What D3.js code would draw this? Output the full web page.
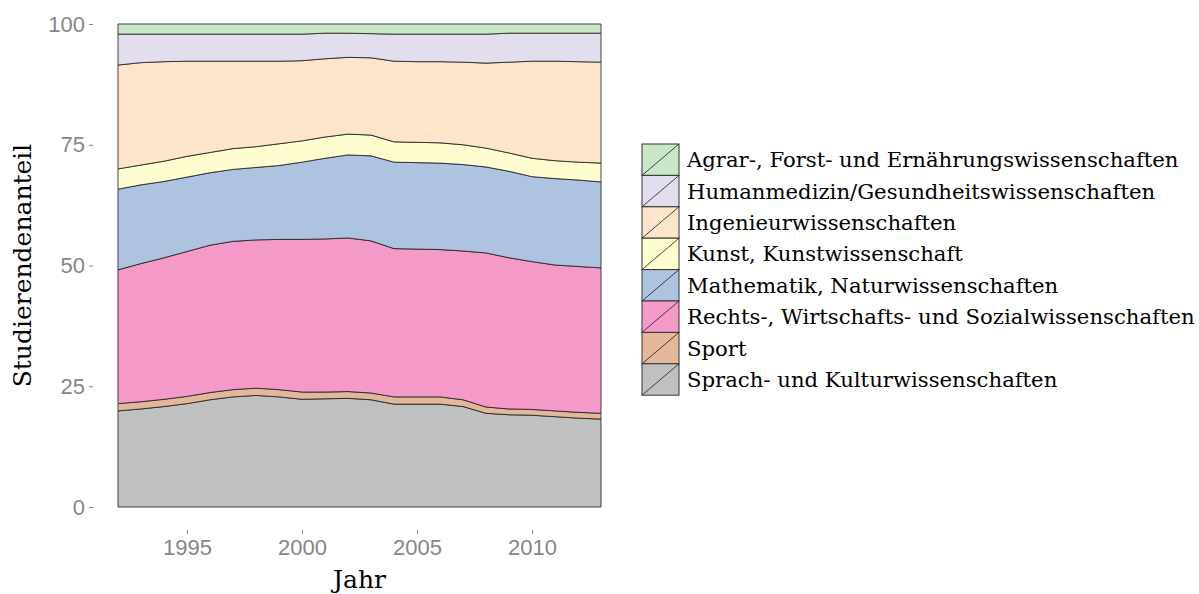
<!DOCTYPE html>
<html>
<head>
<meta charset="utf-8">
<script src="https://cdn.jsdelivr.net/npm/d3@7"></script>
<style>
  html, body { margin: 0; padding: 0; background: #ffffff; }
  svg { display: block; }
</style>
</head>
<body>
<div id="chart"></div>
<script>
// ---- data (Anteil in %) ----
const years = [1992, 1993, 1994, 1995, 1996, 1997, 1998, 1999, 2000, 2001, 2002,
               2003, 2004, 2005, 2006, 2007, 2008, 2009, 2010, 2011, 2012, 2013];

const sprach    = [19.9, 20.3, 20.8, 21.4, 22.2, 22.8, 23.1, 22.8, 22.3, 22.4, 22.5,
                   22.2, 21.3, 21.3, 21.3, 20.8, 19.4, 19.1, 19.0, 18.7, 18.4, 18.2];
const sport     = [1.5, 1.5, 1.5, 1.5, 1.5, 1.5, 1.5, 1.5, 1.5, 1.4, 1.4,
                   1.4, 1.5, 1.5, 1.5, 1.4, 1.3, 1.2, 1.2, 1.2, 1.2, 1.2];
const rechts    = [27.7, 28.6, 29.3, 30.0, 30.5, 30.7, 30.7, 31.1, 31.6, 31.7, 31.8,
                   31.5, 30.7, 30.6, 30.5, 30.8, 31.9, 31.3, 30.6, 30.2, 30.2, 30.1];
const mathe     = [16.7, 16.3, 15.8, 15.4, 15.0, 14.9, 15.0, 15.3, 16.0, 16.7, 17.2,
                   17.6, 17.9, 17.9, 17.9, 17.9, 17.8, 17.9, 17.6, 17.9, 17.9, 17.8];
const kunst     = [4.2, 4.1, 4.2, 4.3, 4.2, 4.3, 4.3, 4.5, 4.4, 4.4, 4.3,
                   4.3, 4.2, 4.2, 4.2, 4.1, 3.9, 3.8, 3.8, 3.7, 3.7, 3.9];
const ingenieur = [21.5, 21.2, 20.6, 19.7, 18.9, 18.1, 17.7, 17.1, 16.6, 16.2, 15.9,
                   16.0, 16.7, 16.7, 16.8, 17.1, 17.6, 18.8, 20.1, 20.6, 20.8, 20.9];
const humanmed  = [6.4, 5.9, 5.7, 5.6, 5.6, 5.6, 5.6, 5.6, 5.5, 5.3, 5.0,
                   5.0, 5.6, 5.7, 5.7, 5.8, 6.0, 6.0, 5.8, 5.8, 5.9, 6.0];
const agrar     = [2.1, 2.1, 2.1, 2.1, 2.1, 2.1, 2.1, 2.1, 2.1, 1.9, 1.9,
                   2.0, 2.1, 2.1, 2.1, 2.1, 2.1, 1.9, 1.9, 1.9, 1.9, 1.9];

// stacking order, bottom to top
const stackKeys = ["Sprach- und Kulturwissenschaften", "Sport",
  "Rechts-, Wirtschafts- und Sozialwissenschaften", "Mathematik, Naturwissenschaften",
  "Kunst, Kunstwissenschaft", "Ingenieurwissenschaften",
  "Humanmedizin/Gesundheitswissenschaften", "Agrar-, Forst- und Ernährungswissenschaften"];
const seriesValues = [sprach, sport, rechts, mathe, kunst, ingenieur, humanmed, agrar];
const seriesColors = ["#c0c0c0", "#e2b79a", "#f599c9", "#adc3e0",
                      "#fdfdcf", "#fde4cb", "#e2deee", "#c8e7c6"];

const yTicks = [0, 25, 50, 75, 100];
const xTicks = [1995, 2000, 2005, 2010];

// ---- layout ----
const width = 1199, height = 594;
const panel = { left: 118, right: 601, top: 24, bottom: 507 };

const svg = d3.select("#chart").append("svg")
    .attr("width", width)
    .attr("height", height);

const x = d3.scaleLinear()
    .domain(d3.extent(years))
    .range([panel.left, panel.right]);

const y = d3.scaleLinear()
    .domain([0, 100])
    .range([panel.bottom, panel.top]);

// build table for d3.stack
const table = years.map((yr, i) => {
    const row = { year: yr };
    stackKeys.forEach((k, j) => { row[k] = seriesValues[j][i]; });
    return row;
});

const stacked = d3.stack().keys(stackKeys)(table);
const color = d3.scaleOrdinal().domain(stackKeys).range(seriesColors);

const area = d3.area()
    .x(d => x(d.data.year))
    .y0(d => y(d[0]))
    .y1(d => y(d[1]));

svg.append("g")
  .selectAll("path")
  .data(stacked)
  .join("path")
    .attr("d", area)
    .attr("fill", d => color(d.key))
    .attr("stroke", "#1a1a1a")
    .attr("stroke-width", 0.8)
    .attr("stroke-linejoin", "round");

// ---- axes (offset from the panel, ggplot-like) ----
const axisGrey = "#868686";
const sans = "'Liberation Sans', Arial, sans-serif";

const yAxis = svg.append("g")
    .attr("transform", `translate(93,0)`)
    .call(d3.axisLeft(y).tickValues(yTicks).tickSize(4).tickPadding(4));
yAxis.select(".domain").remove();
yAxis.selectAll(".tick line").attr("stroke", axisGrey);
yAxis.selectAll(".tick text")
    .attr("fill", axisGrey)
    .style("font-family", sans)
    .style("font-size", "22px");

const xAxis = svg.append("g")
    .attr("transform", `translate(0,530)`)
    .call(d3.axisBottom(x).tickValues(xTicks).tickFormat(d3.format("d")).tickSize(4).tickPadding(5));
xAxis.select(".domain").remove();
xAxis.selectAll(".tick line").attr("stroke", axisGrey);
xAxis.selectAll(".tick text")
    .attr("fill", axisGrey)
    .style("font-family", sans)
    .style("font-size", "22px");

// ---- axis titles ----
const serif = "'DejaVu Serif', serif";

svg.append("text")
    .attr("x", (panel.left + panel.right) / 2)
    .attr("y", 588)
    .attr("text-anchor", "middle")
    .style("font-family", serif)
    .style("font-size", "25px")
    .text("Jahr");

svg.append("text")
    .attr("transform", `translate(31, ${(panel.top + panel.bottom) / 2}) rotate(-90)`)
    .attr("text-anchor", "middle")
    .style("font-family", serif)
    .style("font-size", "25px")
    .text("Studierendenanteil");

// ---- legend ----
const legendKeys = stackKeys.slice().reverse();
const keyW = 37, keyH = 31.4;
const legend = svg.append("g").attr("transform", "translate(642,144)");

const items = legend.selectAll("g")
  .data(legendKeys)
  .join("g")
    .attr("transform", (d, i) => `translate(0, ${i * keyH})`);

items.append("rect")
    .attr("width", keyW)
    .attr("height", keyH)
    .attr("fill", d => color(d))
    .attr("stroke", "#333")
    .attr("stroke-width", 1);

items.append("line")
    .attr("x1", 0).attr("y1", keyH)
    .attr("x2", keyW).attr("y2", 0)
    .attr("stroke", "#1a1a1a")
    .attr("stroke-width", 0.8);

items.append("text")
    .attr("x", keyW + 8)
    .attr("y", keyH / 2)
    .attr("dy", "0.35em")
    .style("font-family", serif)
    .style("font-size", "21.2px")
    .text(d => d);
</script>
</body>
</html>
